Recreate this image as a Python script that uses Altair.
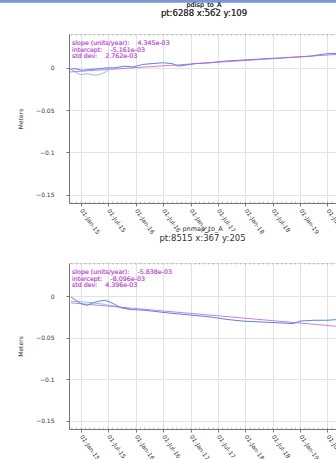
import altair as alt
import pandas as pd

# ---------------- data (decimal years / metres) ----------------
top_main_years = [2014.781, 2014.891, 2015.018, 2015.164, 2015.347, 2015.474, 2015.620,
                  2015.803, 2015.949, 2016.131, 2016.314, 2016.496, 2016.661, 2016.770,
                  2016.898, 2017.080, 2017.354, 2017.628, 2017.901, 2018.175, 2018.449,
                  2018.723, 2018.996, 2019.215, 2019.398, 2019.580, 2019.708]
top_main_vals = [-0.002, -0.001, -0.003, -0.002, -0.001, 0.000, 0.000,
                 0.002, 0.001, 0.004, 0.005, 0.006, 0.005, 0.002,
                 0.003, 0.005, 0.006, 0.008, 0.009, 0.010, 0.011,
                 0.012, 0.013, 0.014, 0.016, 0.017, 0.017]
top_light_years = [2014.836, 2014.982, 2015.128, 2015.274, 2015.420, 2015.493]
top_light_vals = [-0.003, -0.008, -0.007, -0.009, -0.006, -0.003]
top_fit_years = [2014.781, 2019.708]
top_fit_vals = [-0.005, 0.016]
top_title = "pdisp_to_A"
top_sub = "pt:6288 x:562 y:109"
top_notes = [("slope (units/year):", "4.345e-03"), ("intercept:", "-5.161e-03"), ("std dev:", "2.762e-03")]

bot_main_years = [2014.818, 2014.909, 2015.000, 2015.109, 2015.219, 2015.328, 2015.438,
                  2015.529, 2015.620, 2015.730, 2015.894, 2016.168, 2016.442, 2016.715,
                  2017.044, 2017.354, 2017.664, 2017.956, 2018.266, 2018.577, 2018.869,
                  2018.996, 2019.234, 2019.489, 2019.708]
bot_main_vals = [-0.001, -0.005, -0.009, -0.011, -0.008, -0.006, -0.005,
                 -0.007, -0.010, -0.014, -0.016, -0.017, -0.019, -0.021,
                 -0.023, -0.025, -0.028, -0.030, -0.031, -0.032, -0.033,
                 -0.030, -0.029, -0.029, -0.028]
bot_light_years = [2014.818, 2015.073, 2015.347, 2015.620, 2015.894]
bot_light_vals = [-0.006, -0.007, -0.009, -0.012, -0.015]
bot_fit_years = [2014.818, 2019.708]
bot_fit_vals = [-0.008, -0.0365]
bot_title = "pnmap_to_A"
bot_sub = "pt:8515 x:367 y:205"
bot_notes = [("slope (units/year):", "-5.838e-03"), ("intercept:", "-8.096e-03"), ("std dev:", "4.396e-03")]

x_domain_years = [2014.781, 2019.653]
y_ticks = [0, -0.05, -0.1, -0.15]
x_tick_dates = ["2015-01-01", "2015-07-01", "2016-01-01", "2016-07-01", "2017-01-01",
                "2017-07-01", "2018-01-01", "2018-07-01", "2019-01-01", "2019-07-01"]
minor_tick_dates = [d.strftime("%Y-%m-%d") for d in pd.date_range("2014-11-01", "2019-08-01", freq="MS")]


def to_date(y):
    yr = int(y)
    return (pd.Timestamp(yr, 1, 1) + pd.Timedelta(days=(y - yr) * 365.25)).strftime("%Y-%m-%d")


FONT = "DejaVu Sans"
BLUE = "#5b86d6"
LIGHT = "#86c6ec"
FIT = "#c25be6"
NB = "\u00a0"


def panel(main_y, main_v, light_y, light_v, fit_y, fit_v, title, sub, notes, height, first=False):
    main = pd.DataFrame({"date": [to_date(v) for v in main_y], "val": main_v})
    light = pd.DataFrame({"date": [to_date(v) for v in light_y], "val": light_v})
    fit = pd.DataFrame({"date": [to_date(v) for v in fit_y], "val": fit_v})
    minor = pd.DataFrame({"date": minor_tick_dates})
    xs = alt.Scale(domain=[to_date(v) for v in x_domain_years])
    ys = alt.Scale(domain=[-0.16, 0.04], nice=False, zero=False)
    xaxis = alt.Axis(values=[alt.DateTime(year=int(d[:4]), month=int(d[5:7]), date=1) for d in x_tick_dates],
                     format="%d-%b-%y", labelAngle=55, labelAlign="left", labelBaseline="middle",
                     labelFont=FONT, labelFontSize=6, labelColor="#333", title=None,
                     grid=True, gridColor="#e2e2e2", tickSize=3, tickColor="#777",
                     domainColor="#777", labelPadding=3, labelOverlap=False)
    yaxis = alt.Axis(values=y_ticks, labelFont=FONT, labelFontSize=6, labelColor="#333",
                     title="Meters", titleFont=FONT, titleFontSize=6, titleFontWeight="normal",
                     titleColor="#333", titlePadding=12, labelPadding=12, tickSize=3,
                     tickColor="#777", domainColor="#777", grid=True, gridColor="#e2e2e2",
                     labelExpr="datum.value == 0 ? '0' : format(datum.value, '.2~f')")
    x = alt.X("date:T", scale=xs, axis=xaxis)
    y = alt.Y("val:Q", scale=ys, axis=yaxis)
    l_main = alt.Chart(main).mark_line(color=BLUE, strokeWidth=1, clip=True).encode(x=x, y=y)
    l_light = alt.Chart(light).mark_line(color=LIGHT, strokeWidth=1, clip=True).encode(x=x, y=y)
    l_fit = alt.Chart(fit).mark_line(color=FIT, strokeWidth=0.8, clip=True).encode(x=x, y=y)
    t_top = alt.Chart(minor).mark_tick(orient="vertical", size=3, thickness=0.8, color="#888",
                                       clip=True).encode(x=x, y=alt.value(0))
    t_bot = alt.Chart(minor).mark_tick(orient="vertical", size=3, thickness=0.8, color="#888",
                                       clip=True).encode(x=x, y=alt.value(height))
    layers = [l_light, l_main, l_fit, t_top, t_bot]
    for i, (lab, val) in enumerate(notes):
        layers.append(
            alt.Chart(fit).mark_text(align="left", baseline="middle", font=FONT, fontSize=6.3,
                                     color=FIT, text=lab + NB * 4 + val).encode(
                x=alt.value(3), y=alt.value(9 + 6.5 * i))
        )
    props = dict(width=267, height=height)
    if first:
        # window frame strip and the titles drawn as text above the plot
        layers.append(
            alt.Chart(fit).mark_rule(color="#7b96d2", strokeWidth=2.5).encode(
                x=alt.value(-69), x2=alt.value(267), y=alt.value(-32.8))
        )
        layers.append(
            alt.Chart(fit).mark_text(align="center", baseline="middle", font=FONT, fontSize=6.5,
                                     color="#333", text=title).encode(
                x=alt.value(135), y=alt.value(-29.5))
        )
        layers.append(
            alt.Chart(fit).mark_text(align="center", baseline="middle", font=FONT, fontSize=8.5,
                                     color="#333", text=sub).encode(
                x=alt.value(135), y=alt.value(-21.5))
        )
    else:
        props["title"] = alt.TitleParams(text=title, subtitle=sub, fontSize=6.5, subtitleFontSize=8.5,
                                         font=FONT, subtitleFont=FONT, fontWeight="normal",
                                         color="#333", subtitleColor="#333", anchor="middle",
                                         offset=21, subtitlePadding=1)
    return alt.layer(*layers).properties(**props)


top = panel(top_main_years, top_main_vals, top_light_years, top_light_vals,
            top_fit_years, top_fit_vals, top_title, top_sub, top_notes, 169, first=True)
bot = panel(bot_main_years, bot_main_vals, bot_light_years, bot_light_vals,
            bot_fit_years, bot_fit_vals, bot_title, bot_sub, bot_notes, 166)

chart = alt.vconcat(top, bot, spacing=60, bounds="flush").properties(
    autosize=alt.AutoSizeParams(type="none"),
    padding={"left": 69, "top": 34, "right": 0, "bottom": 425}
).configure_view(stroke="#777", strokeWidth=1).configure(background="white")

chart.save("out.html", embed_options={"renderer": "svg", "actions": False})
